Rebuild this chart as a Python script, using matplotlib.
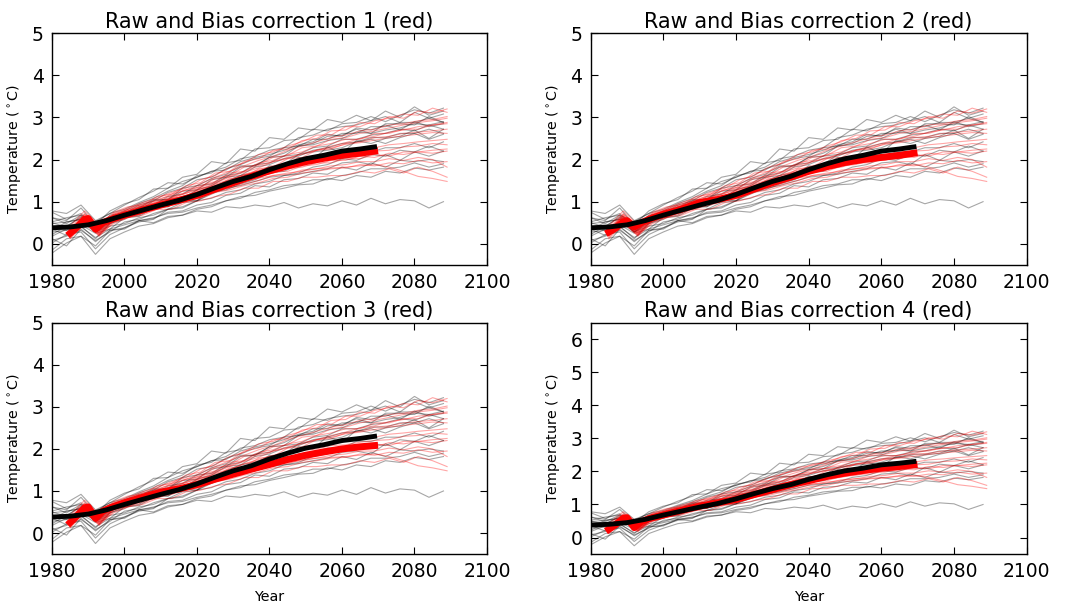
import numpy as np
import matplotlib
matplotlib.use("Agg")
import matplotlib.pyplot as plt

# ensemble members (4-year spacing)
raw_years = list(range(1980, 2089, 4))
raw_members = [
    [0.62, 0.55, 0.85, 0.45, 0.78, 0.95, 1.05, 1.30, 1.32, 1.58, 1.65, 1.95, 1.90, 2.25, 2.20, 2.52, 2.48, 2.75, 2.70, 2.95, 2.88, 3.05, 2.92, 3.15, 3.00, 3.25, 3.05, 3.15],
    [0.18, 0.35, 0.45, 0.25, 0.35, 0.62, 0.65, 0.85, 0.88, 1.05, 1.02, 1.32, 1.35, 1.55, 1.62, 1.85, 1.80, 2.05, 2.00, 2.30, 2.15, 2.45, 2.38, 2.50, 2.55, 2.70, 2.50, 2.72],
    [0.12, -0.05, 0.35, 0.05, 0.32, 0.38, 0.55, 0.50, 0.65, 0.68, 0.78, 0.75, 0.88, 0.85, 0.92, 0.88, 0.98, 0.85, 0.95, 0.90, 1.02, 0.92, 1.08, 0.95, 1.05, 1.02, 0.85, 1.00],
    [0.50, 0.40, 0.65, 0.28, 0.52, 0.72, 0.85, 1.05, 1.05, 1.32, 1.38, 1.55, 1.65, 1.85, 1.85, 2.05, 2.08, 2.32, 2.35, 2.45, 2.50, 2.65, 2.62, 2.70, 2.75, 2.85, 2.82, 2.90],
    [-0.15, 0.12, 0.18, -0.05, 0.32, 0.35, 0.55, 0.60, 0.75, 0.78, 0.92, 0.98, 1.15, 1.20, 1.38, 1.35, 1.52, 1.55, 1.68, 1.65, 1.82, 1.75, 1.92, 1.82, 1.98, 1.95, 2.00, 1.95],
    [0.32, 0.52, 0.58, 0.42, 0.58, 0.75, 0.78, 1.02, 1.05, 1.25, 1.28, 1.52, 1.58, 1.82, 1.85, 2.05, 2.15, 2.32, 2.38, 2.55, 2.58, 2.72, 2.62, 2.85, 2.85, 2.82, 3.02, 2.88],
    [0.75, 0.58, 0.72, 0.38, 0.62, 0.78, 0.95, 1.08, 1.25, 1.38, 1.62, 1.68, 1.92, 1.98, 2.25, 2.28, 2.45, 2.48, 2.72, 2.68, 2.85, 2.88, 3.02, 2.90, 3.05, 3.18, 3.10, 3.22],
    [0.02, 0.22, 0.28, -0.12, 0.22, 0.38, 0.52, 0.58, 0.82, 0.85, 1.02, 1.08, 1.22, 1.28, 1.42, 1.48, 1.62, 1.65, 1.72, 1.78, 1.92, 1.95, 1.88, 2.12, 1.98, 2.18, 2.08, 2.20],
    [0.42, 0.32, 0.52, 0.28, 0.48, 0.62, 0.68, 0.92, 0.88, 1.12, 1.18, 1.32, 1.48, 1.62, 1.68, 1.82, 1.88, 2.12, 2.18, 2.22, 2.28, 2.42, 2.48, 2.38, 2.52, 2.62, 2.48, 2.60],
    [0.22, 0.42, 0.62, 0.28, 0.42, 0.48, 0.62, 0.68, 0.82, 0.88, 1.02, 1.18, 1.32, 1.38, 1.48, 1.58, 1.62, 1.68, 1.82, 1.88, 2.02, 1.98, 2.12, 2.08, 2.22, 2.18, 2.32, 2.20],
    [0.52, 0.62, 0.68, 0.52, 0.72, 0.82, 0.98, 1.12, 1.32, 1.48, 1.58, 1.72, 1.82, 2.02, 2.08, 2.22, 2.28, 2.52, 2.58, 2.72, 2.78, 2.82, 2.92, 3.02, 2.88, 3.12, 2.98, 3.08],
    [-0.22, 0.02, 0.18, -0.25, 0.12, 0.28, 0.42, 0.48, 0.62, 0.68, 0.82, 0.88, 1.02, 1.08, 1.22, 1.28, 1.38, 1.42, 1.52, 1.52, 1.62, 1.68, 1.78, 1.78, 1.82, 1.92, 1.82, 1.90],
    [0.28, 0.32, 0.42, 0.12, 0.48, 0.58, 0.78, 0.82, 1.02, 1.08, 1.28, 1.38, 1.58, 1.62, 1.82, 1.88, 2.02, 2.08, 2.22, 2.28, 2.38, 2.42, 2.52, 2.52, 2.62, 2.62, 2.72, 2.62],
    [0.62, 0.48, 0.68, 0.32, 0.68, 0.72, 0.92, 1.02, 1.22, 1.32, 1.52, 1.58, 1.78, 1.88, 2.02, 2.08, 2.28, 2.32, 2.48, 2.48, 2.62, 2.62, 2.78, 2.78, 2.88, 2.88, 2.98, 2.88],
    [0.08, 0.18, 0.32, 0.08, 0.28, 0.52, 0.58, 0.72, 0.82, 0.98, 1.02, 1.22, 1.28, 1.42, 1.52, 1.68, 1.72, 1.88, 1.92, 2.02, 2.02, 2.18, 2.18, 2.28, 2.28, 2.38, 2.28, 2.42],
    [0.48, 0.52, 0.58, 0.28, 0.58, 0.62, 0.88, 0.92, 1.12, 1.18, 1.38, 1.42, 1.62, 1.68, 1.88, 1.92, 2.08, 2.12, 2.28, 2.32, 2.48, 2.48, 2.58, 2.62, 2.72, 2.68, 2.82, 2.72],
    [0.78, 0.72, 0.92, 0.55, 0.72, 0.92, 1.10, 1.25, 1.45, 1.42, 1.58, 1.72, 1.75, 1.95, 2.05, 2.12, 2.22, 2.35, 2.42, 2.60, 2.55, 2.75, 2.70, 2.82, 2.70, 2.90, 2.78, 2.85],
    [0.35, 0.20, 0.40, 0.15, 0.35, 0.45, 0.55, 0.62, 0.72, 0.75, 0.85, 0.92, 1.02, 1.12, 1.15, 1.25, 1.32, 1.40, 1.42, 1.55, 1.50, 1.62, 1.58, 1.72, 1.68, 1.80, 1.75, 1.82],
]

bc_years = list(range(1985, 2090, 4))
bc_members = [
    [0.30, 0.72, 0.38, 0.72, 0.85, 0.98, 1.08, 1.22, 1.32, 1.52, 1.62, 1.82, 1.92, 2.12, 2.18, 2.32, 2.42, 2.58, 2.58, 2.78, 2.78, 2.92, 2.98, 3.08, 3.05, 3.22, 3.12],
    [0.20, 0.55, 0.22, 0.58, 0.62, 0.78, 0.82, 0.98, 1.02, 1.18, 1.28, 1.42, 1.48, 1.62, 1.68, 1.78, 1.82, 1.92, 1.92, 2.02, 2.02, 2.12, 2.08, 2.18, 2.18, 2.22, 2.25],
    [0.12, 0.48, 0.22, 0.48, 0.62, 0.68, 0.82, 0.82, 0.98, 1.02, 1.12, 1.18, 1.32, 1.32, 1.48, 1.48, 1.58, 1.58, 1.62, 1.62, 1.72, 1.68, 1.78, 1.68, 1.82, 1.72, 1.58],
    [0.35, 0.65, 0.32, 0.68, 0.78, 0.92, 0.98, 1.12, 1.22, 1.38, 1.48, 1.68, 1.72, 1.92, 1.98, 2.12, 2.18, 2.32, 2.38, 2.48, 2.48, 2.62, 2.62, 2.72, 2.72, 2.82, 2.85],
    [0.25, 0.62, 0.28, 0.62, 0.72, 0.80, 0.95, 1.02, 1.15, 1.25, 1.42, 1.52, 1.65, 1.75, 1.85, 1.92, 2.02, 2.08, 2.15, 2.20, 2.25, 2.28, 2.35, 2.38, 2.42, 2.45, 2.48],
    [0.42, 0.78, 0.45, 0.75, 0.88, 0.92, 1.12, 1.18, 1.38, 1.45, 1.68, 1.72, 1.95, 2.02, 2.22, 2.25, 2.45, 2.50, 2.68, 2.70, 2.88, 2.85, 3.02, 2.98, 3.15, 3.10, 3.20],
    [0.15, 0.52, 0.18, 0.52, 0.65, 0.72, 0.85, 0.92, 1.02, 1.08, 1.22, 1.28, 1.38, 1.45, 1.55, 1.58, 1.68, 1.72, 1.78, 1.80, 1.88, 1.85, 1.92, 1.90, 1.98, 1.92, 1.95],
    [0.28, 0.68, 0.35, 0.65, 0.75, 0.88, 0.92, 1.08, 1.12, 1.32, 1.35, 1.55, 1.58, 1.78, 1.82, 2.02, 2.05, 2.22, 2.25, 2.38, 2.42, 2.52, 2.55, 2.62, 2.65, 2.68, 2.72],
    [0.22, 0.58, 0.25, 0.58, 0.70, 0.78, 0.90, 0.98, 1.08, 1.15, 1.32, 1.38, 1.52, 1.58, 1.72, 1.72, 1.85, 1.88, 1.98, 1.98, 2.08, 2.05, 2.15, 2.12, 2.18, 2.15, 2.20],
    [0.32, 0.62, 0.30, 0.70, 0.82, 0.95, 1.02, 1.18, 1.28, 1.42, 1.58, 1.72, 1.85, 1.98, 2.08, 2.22, 2.32, 2.42, 2.52, 2.58, 2.68, 2.72, 2.82, 2.85, 2.92, 2.95, 3.02],
    [0.18, 0.50, 0.20, 0.55, 0.68, 0.75, 0.88, 0.95, 1.05, 1.12, 1.25, 1.32, 1.42, 1.50, 1.62, 1.65, 1.75, 1.78, 1.85, 1.88, 1.95, 1.95, 2.02, 1.98, 2.05, 2.00, 1.82],
    [0.38, 0.70, 0.40, 0.70, 0.82, 0.90, 1.05, 1.15, 1.28, 1.35, 1.55, 1.62, 1.82, 1.88, 2.05, 2.10, 2.28, 2.32, 2.48, 2.52, 2.62, 2.68, 2.75, 2.82, 2.88, 2.92, 2.98],
    [0.26, 0.60, 0.26, 0.60, 0.74, 0.84, 0.94, 1.06, 1.14, 1.28, 1.40, 1.50, 1.64, 1.72, 1.82, 1.88, 1.96, 2.00, 2.08, 2.10, 2.16, 2.20, 2.22, 2.30, 2.32, 2.38, 2.35],
    [0.20, 0.56, 0.24, 0.56, 0.66, 0.76, 0.86, 0.96, 1.06, 1.16, 1.26, 1.36, 1.46, 1.56, 1.62, 1.68, 1.72, 1.78, 1.80, 1.82, 1.85, 1.88, 1.82, 1.72, 1.60, 1.55, 1.48],
    [0.34, 0.66, 0.34, 0.66, 0.80, 0.88, 1.00, 1.10, 1.20, 1.34, 1.46, 1.60, 1.72, 1.86, 1.95, 2.05, 2.12, 2.22, 2.28, 2.36, 2.40, 2.46, 2.52, 2.56, 2.60, 2.64, 2.62],
    [0.28, 0.64, 0.30, 0.64, 0.76, 0.86, 0.98, 1.08, 1.20, 1.30, 1.44, 1.58, 1.70, 1.80, 1.95, 2.02, 2.15, 2.22, 2.32, 2.40, 2.50, 2.55, 2.65, 2.70, 2.78, 2.82, 2.88],
]

# ensemble means
raw_mean_years = [1980, 1985, 1990, 1995, 2000, 2005, 2010, 2015, 2020, 2025,
                  2030, 2035, 2040, 2045, 2050, 2055, 2060, 2065, 2069]
raw_mean = [0.38, 0.40, 0.45, 0.55, 0.68, 0.80, 0.92, 1.03, 1.17, 1.33,
            1.48, 1.60, 1.76, 1.90, 2.02, 2.10, 2.20, 2.25, 2.30]

bc_mean_years = [1985, 1987, 1989, 1990, 1992, 1994, 1996, 2000, 2005, 2010, 2015,
                 2020, 2025, 2030, 2035, 2040, 2045, 2050, 2055, 2060, 2065, 2069]
bc_means = [
    [0.25, 0.40, 0.58, 0.60, 0.35, 0.50, 0.57, 0.68, 0.80, 0.92, 1.03, 1.15, 1.30, 1.45, 1.60, 1.73, 1.85, 1.95, 2.03, 2.10, 2.15, 2.20],
    [0.28, 0.38, 0.52, 0.55, 0.40, 0.50, 0.58, 0.70, 0.82, 0.98, 1.05, 1.15, 1.30, 1.45, 1.58, 1.72, 1.83, 1.93, 2.00, 2.05, 2.10, 2.15],
    [0.25, 0.42, 0.60, 0.62, 0.35, 0.52, 0.60, 0.72, 0.85, 0.97, 1.05, 1.15, 1.28, 1.40, 1.52, 1.63, 1.75, 1.85, 1.93, 2.00, 2.05, 2.08],
    [0.25, 0.40, 0.58, 0.60, 0.30, 0.48, 0.57, 0.68, 0.82, 0.95, 1.05, 1.15, 1.30, 1.45, 1.60, 1.72, 1.85, 1.95, 2.03, 2.10, 2.15, 2.20],
]

titles = ["Raw and Bias correction %d (red)" % i for i in range(1, 5)]
ytops = [5, 5, 5, 6.5]

fig = plt.figure(figsize=(10.7, 6.02), dpi=100)
positions = [[0.0486, 0.560, 0.4065, 0.385],
             [0.552, 0.560, 0.4075, 0.385],
             [0.0486, 0.0797, 0.4065, 0.384],
             [0.552, 0.0797, 0.4075, 0.384]]

for i in range(4):
    ax = fig.add_axes(positions[i])
    for m in raw_members:
        ax.plot(raw_years, m, color='k', lw=0.8, alpha=0.35)
    for m in bc_members:
        ax.plot(bc_years, m, color='r', lw=0.8, alpha=0.35)
    ax.plot(bc_mean_years, bc_means[i], color='r', lw=5)
    ax.plot(raw_mean_years, raw_mean, color='k', lw=3.5)

    ax.set_xlim(1980, 2100)
    ax.set_ylim(-0.5, ytops[i])
    ax.set_xticks(np.arange(1980, 2101, 20))
    ax.set_yticks(np.arange(0, int(ytops[i]) + 1, 1))
    ax.tick_params(direction='in', top=True, right=True, labelsize=13.5,
                   length=5, width=0.8, pad=6)
    for s in ax.spines.values():
        s.set_linewidth(1.0)
    ax.set_title(titles[i], fontsize=15, pad=4)
    ax.set_ylabel(r'Temperature ($^\circ$C)', fontsize=10.3, labelpad=6)
    if i >= 2:
        ax.set_xlabel('Year', fontsize=10.3, labelpad=6)

fig.savefig('out.png', dpi=100, facecolor='white')
